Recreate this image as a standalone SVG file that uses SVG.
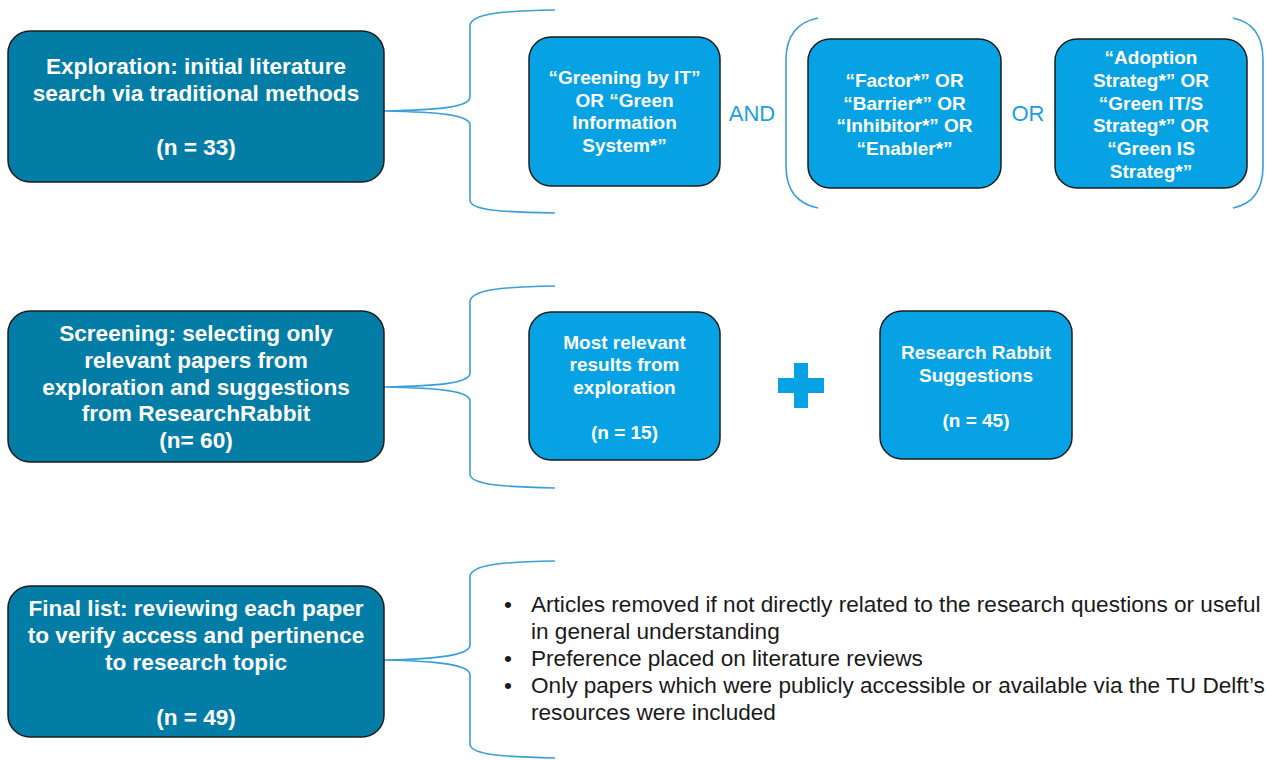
<svg xmlns="http://www.w3.org/2000/svg" width="1266" height="760" viewBox="0 0 1266 760">
  <defs>
    <style>
      .stage { fill: #037ca6; stroke: #1c1c1c; stroke-width: 1.5; }
      .term { fill: #07a2e3; stroke: #1c1c1c; stroke-width: 1.5; }
      .stage-text { font-family: "Liberation Sans", Arial, sans-serif; font-weight: bold; font-size: 22.6px; fill: #ffffff; text-anchor: middle; }
      .term-text { font-family: "Liberation Sans", Arial, sans-serif; font-weight: bold; font-size: 19px; fill: #ffffff; text-anchor: middle; }
      .op { font-family: "Liberation Sans", Arial, sans-serif; font-size: 22px; fill: #1b9fdc; text-anchor: middle; }
      .note { font-family: "Liberation Sans", Arial, sans-serif; font-size: 22.6px; fill: #1a1a1a; }
      .brace { fill: none; stroke: #3a9fd8; stroke-width: 1.6; }
    </style>
  </defs>
  <rect width="1266" height="760" fill="#ffffff"/>

  <!-- braces and brackets joining the stages to their criteria -->
  <g id="connectors">
    <path class="brace" d="M555,10 C505,11 470,13 470,26 L470,97 C470,107 440,110 384,111 C440,112 470,115 470,125 L470,200 C470,211 505,212 555,213"/>
    <path class="brace" d="M555,286 C505,287 470,289 470,302 L470,373 C470,383 440,386 384,387 C440,388 470,391 470,401 L470,474 C470,485 505,487 555,488"/>
    <path class="brace" d="M555,561 C505,562 470,564 470,577 L470,645 C470,655 440,659 384,660 C440,661 470,665 470,675 L470,744 C470,755 505,757 555,758"/>
    <path class="brace" d="M818,18 C798,22 786,35 786,60 L786,166 C786,191 798,204 818,208"/>
    <path class="brace" d="M1233,18 C1253,22 1263,35 1263,60 L1263,166 C1263,191 1253,204 1233,208"/>
  </g>

  <!-- stage 1: exploration -->
  <g id="exploration">
    <rect class="stage" x="8" y="31" width="376" height="151" rx="22"/>
    <text class="stage-text" x="196" y="74">Exploration: initial literature</text>
    <text class="stage-text" x="196" y="101">search via traditional methods</text>
    <text class="stage-text" x="196" y="155">(n = 33)</text>
  </g>

  <g id="term-greening">
    <rect class="term" x="529" y="37" width="191" height="149" rx="22"/>
    <text class="term-text" x="624.5" y="84">“Greening by IT”</text>
    <text class="term-text" x="624.5" y="107">OR “Green</text>
    <text class="term-text" x="624.5" y="129">Information</text>
    <text class="term-text" x="624.5" y="152">System*”</text>
  </g>

  <text id="and" class="op" x="752" y="121">AND</text>

  <g id="term-factor">
    <rect class="term" x="808" y="39" width="193" height="149" rx="22"/>
    <text class="term-text" x="904.5" y="87">“Factor*” OR</text>
    <text class="term-text" x="904.5" y="110">“Barrier*” OR</text>
    <text class="term-text" x="904.5" y="132">“Inhibitor*” OR</text>
    <text class="term-text" x="904.5" y="155">“Enabler*”</text>
  </g>

  <text id="or" class="op" x="1028" y="121">OR</text>

  <g id="term-adoption">
    <rect class="term" x="1055" y="39" width="192" height="149" rx="22"/>
    <text class="term-text" x="1151" y="64">“Adoption</text>
    <text class="term-text" x="1151" y="87">Strateg*” OR</text>
    <text class="term-text" x="1151" y="110">“Green IT/S</text>
    <text class="term-text" x="1151" y="132">Strateg*” OR</text>
    <text class="term-text" x="1151" y="155">“Green IS</text>
    <text class="term-text" x="1151" y="178">Strateg*”</text>
  </g>

  <!-- stage 2: screening -->
  <g id="screening">
    <rect class="stage" x="8" y="311" width="376" height="151" rx="22"/>
    <text class="stage-text" x="196" y="341">Screening: selecting only</text>
    <text class="stage-text" x="196" y="368">relevant papers from</text>
    <text class="stage-text" x="196" y="395">exploration and suggestions</text>
    <text class="stage-text" x="196" y="421">from ResearchRabbit</text>
    <text class="stage-text" x="196" y="448">(n= 60)</text>
  </g>

  <g id="most-relevant">
    <rect class="term" x="529" y="312" width="191" height="148" rx="22"/>
    <text class="term-text" x="624.5" y="349">Most relevant</text>
    <text class="term-text" x="624.5" y="371">results from</text>
    <text class="term-text" x="624.5" y="394">exploration</text>
    <text class="term-text" x="624.5" y="439">(n = 15)</text>
  </g>

  <path id="plus" d="M794,363 H808 V378 H824 V393 H808 V408 H794 V393 H778 V378 H794 Z" fill="#07a2e3"/>

  <g id="research-rabbit">
    <rect class="term" x="880" y="311" width="192" height="148" rx="22"/>
    <text class="term-text" x="976" y="359">Research Rabbit</text>
    <text class="term-text" x="976" y="382">Suggestions</text>
    <text class="term-text" x="976" y="427">(n = 45)</text>
  </g>

  <!-- stage 3: final list -->
  <g id="final-list">
    <rect class="stage" x="8" y="586" width="376" height="151" rx="22"/>
    <text class="stage-text" x="196" y="616">Final list: reviewing each paper</text>
    <text class="stage-text" x="196" y="643">to verify access and pertinence</text>
    <text class="stage-text" x="196" y="670">to research topic</text>
    <text class="stage-text" x="196" y="725">(n = 49)</text>
  </g>

  <g id="criteria">
    <text class="note" x="504" y="612">•</text>
    <text class="note" x="531" y="612">Articles removed if not directly related to the research questions or useful</text>
    <text class="note" x="531" y="639">in general understanding</text>
    <text class="note" x="504" y="666">•</text>
    <text class="note" x="531" y="666">Preference placed on literature reviews</text>
    <text class="note" x="504" y="693">•</text>
    <text class="note" x="531" y="693">Only papers which were publicly accessible or available via the TU Delft’s</text>
    <text class="note" x="531" y="720">resources were included</text>
  </g>
</svg>
